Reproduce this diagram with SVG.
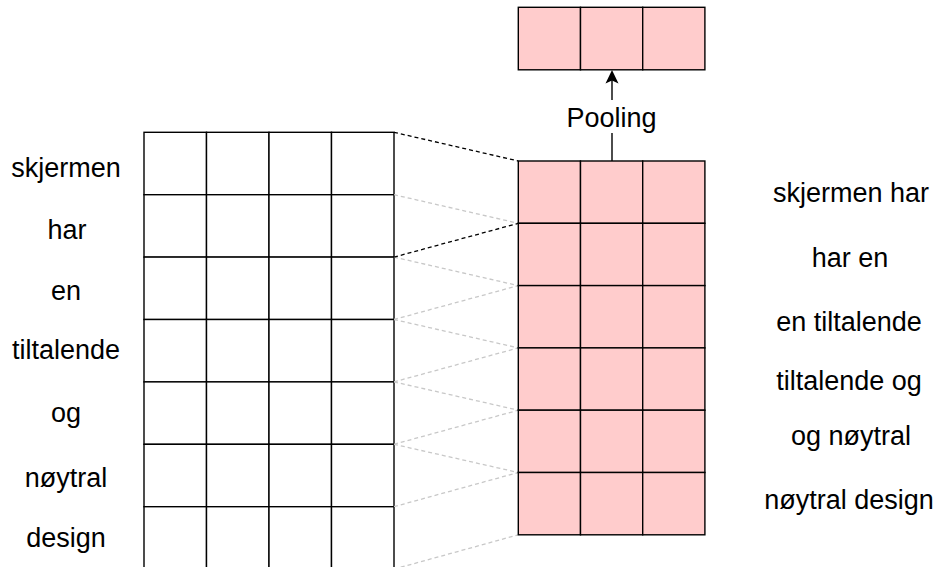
<svg xmlns="http://www.w3.org/2000/svg" width="940" height="567" viewBox="0 0 940 567">
  <style>
    .cell { fill: #ffffff; stroke: #000000; stroke-width: 1.4; }
    .pink { fill: #ffcccc; stroke: #000000; stroke-width: 1.4; }
    .lbl { font-family: "Liberation Sans", Arial, Helvetica, sans-serif; font-size: 27px; fill: #000000; text-anchor: middle; }
    .dash-dark { stroke: #000000; stroke-width: 1.3; stroke-dasharray: 4 3; fill: none; }
    .dash-light { stroke: #c8c8c8; stroke-width: 1.3; stroke-dasharray: 4 3; fill: none; }
    .arrow { stroke: #000000; stroke-width: 1.4; fill: none; }
  </style>
  <defs>
    <rect id="lc" class="cell" width="62.5" height="62.4"/>
    <rect id="rc" class="pink" width="62.2" height="62.3"/>
  </defs>

  <rect width="940" height="567" fill="#ffffff"/>

  <!-- word embedding matrix: 7 words x 4 dims -->
  <g id="embedding-matrix">
    <g id="row-0">
      <use href="#lc" x="144" y="132.3"/><use href="#lc" x="206.5" y="132.3"/><use href="#lc" x="269" y="132.3"/><use href="#lc" x="331.5" y="132.3"/>
    </g>
    <g id="row-1">
      <use href="#lc" x="144" y="194.7"/><use href="#lc" x="206.5" y="194.7"/><use href="#lc" x="269" y="194.7"/><use href="#lc" x="331.5" y="194.7"/>
    </g>
    <g id="row-2">
      <use href="#lc" x="144" y="257.1"/><use href="#lc" x="206.5" y="257.1"/><use href="#lc" x="269" y="257.1"/><use href="#lc" x="331.5" y="257.1"/>
    </g>
    <g id="row-3">
      <use href="#lc" x="144" y="319.5"/><use href="#lc" x="206.5" y="319.5"/><use href="#lc" x="269" y="319.5"/><use href="#lc" x="331.5" y="319.5"/>
    </g>
    <g id="row-4">
      <use href="#lc" x="144" y="381.9"/><use href="#lc" x="206.5" y="381.9"/><use href="#lc" x="269" y="381.9"/><use href="#lc" x="331.5" y="381.9"/>
    </g>
    <g id="row-5">
      <use href="#lc" x="144" y="444.3"/><use href="#lc" x="206.5" y="444.3"/><use href="#lc" x="269" y="444.3"/><use href="#lc" x="331.5" y="444.3"/>
    </g>
    <g id="row-6">
      <use href="#lc" x="144" y="506.7"/><use href="#lc" x="206.5" y="506.7"/><use href="#lc" x="269" y="506.7"/><use href="#lc" x="331.5" y="506.7"/>
    </g>
  </g>

  <!-- words -->
  <g id="word-labels">
    <text class="lbl" x="66" y="177">skjermen</text>
    <text class="lbl" x="67" y="239">har</text>
    <text class="lbl" x="66" y="300">en</text>
    <text class="lbl" x="66" y="359">tiltalende</text>
    <text class="lbl" x="66" y="422">og</text>
    <text class="lbl" x="66" y="487">nøytral</text>
    <text class="lbl" x="66" y="547">design</text>
  </g>

  <!-- convolution windows (size 2) -->
  <g id="connectors">
    <line class="dash-light" x1="394" y1="194.7" x2="518.3" y2="223.3"/>
    <line class="dash-light" x1="394" y1="257.1" x2="518.3" y2="285.6"/>
    <line class="dash-light" x1="394" y1="319.5" x2="518.3" y2="285.6"/>
    <line class="dash-light" x1="394" y1="319.5" x2="518.3" y2="347.9"/>
    <line class="dash-light" x1="394" y1="381.9" x2="518.3" y2="347.9"/>
    <line class="dash-light" x1="394" y1="381.9" x2="518.3" y2="410.2"/>
    <line class="dash-light" x1="394" y1="444.3" x2="518.3" y2="410.2"/>
    <line class="dash-light" x1="394" y1="444.3" x2="518.3" y2="472.5"/>
    <line class="dash-light" x1="394" y1="506.7" x2="518.3" y2="472.5"/>
    <line class="dash-light" x1="394" y1="569.1" x2="518.3" y2="534.8"/>
    <line class="dash-dark" x1="394" y1="132.3" x2="518.3" y2="161"/>
    <line class="dash-dark" x1="394" y1="257.1" x2="518.3" y2="223.3"/>
    <!-- pooling arrow -->
    <line class="arrow" x1="612" y1="161" x2="612" y2="78"/>
    <path d="M612 70 L618.5 83.5 L612 80.5 L605.5 83.5 Z" fill="#000000"/>
  </g>

  <!-- feature map: 6 bigrams x 3 filters -->
  <g id="feature-map">
    <use href="#rc" x="518.3" y="161"/><use href="#rc" x="580.5" y="161"/><use href="#rc" x="642.7" y="161"/>
    <use href="#rc" x="518.3" y="223.3"/><use href="#rc" x="580.5" y="223.3"/><use href="#rc" x="642.7" y="223.3"/>
    <use href="#rc" x="518.3" y="285.6"/><use href="#rc" x="580.5" y="285.6"/><use href="#rc" x="642.7" y="285.6"/>
    <use href="#rc" x="518.3" y="347.9"/><use href="#rc" x="580.5" y="347.9"/><use href="#rc" x="642.7" y="347.9"/>
    <use href="#rc" x="518.3" y="410.2"/><use href="#rc" x="580.5" y="410.2"/><use href="#rc" x="642.7" y="410.2"/>
    <use href="#rc" x="518.3" y="472.5"/><use href="#rc" x="580.5" y="472.5"/><use href="#rc" x="642.7" y="472.5"/>
  </g>

  <!-- pooled vector -->
  <g id="pooled-vector">
    <rect class="pink" x="518.3" y="7.3" width="62.2" height="62.5"/>
    <rect class="pink" x="580.5" y="7.3" width="62.2" height="62.5"/>
    <rect class="pink" x="642.7" y="7.3" width="62.2" height="62.5"/>
  </g>

  <g id="pooling-label">
    <rect x="564" y="100" width="96" height="33" fill="#ffffff"/>
    <text class="lbl" x="611.5" y="127">Pooling</text>
  </g>

  <!-- bigrams -->
  <g id="bigram-labels">
    <text class="lbl" x="851" y="202">skjermen har</text>
    <text class="lbl" x="850" y="267">har en</text>
    <text class="lbl" x="849" y="331">en tiltalende</text>
    <text class="lbl" x="849" y="390">tiltalende og</text>
    <text class="lbl" x="851" y="445">og nøytral</text>
    <text class="lbl" x="849" y="509">nøytral design</text>
  </g>
</svg>
